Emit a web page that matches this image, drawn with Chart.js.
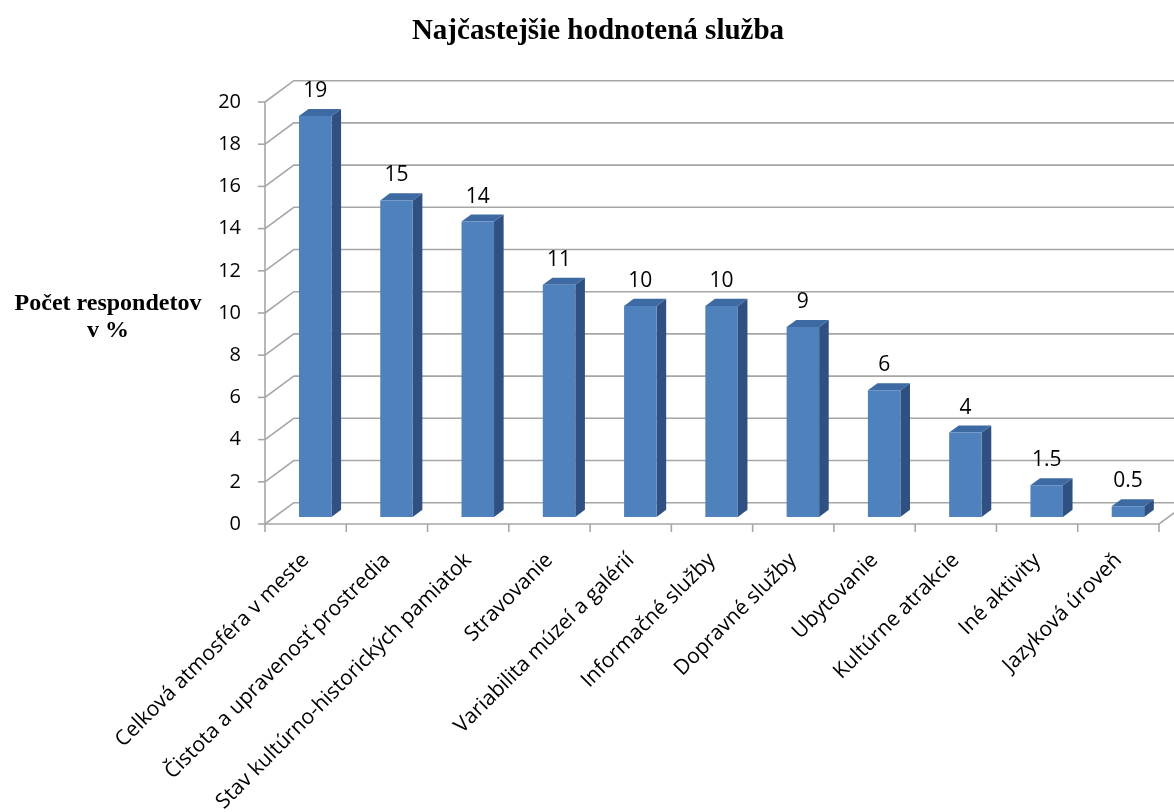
<!DOCTYPE html>
<html>
<head>
<meta charset="utf-8">
<title>Najčastejšie hodnotená služba</title>
<script src="https://cdn.jsdelivr.net/npm/chart.js@4/dist/chart.umd.min.js"></script>
<style>
  html, body { margin: 0; padding: 0; background: #fff; }
  #wrap { width: 1174px; height: 812px; }
</style>
</head>
<body>
<div id="wrap"><canvas id="chart" width="1174" height="812"></canvas></div>
<script>
/* global Chart */
const chartTitle = "Najčastejšie hodnotená služba";
const yTitleLines = ["Počet respondetov", "v %"];

const categories = [
  "Celková atmosféra v meste",
  "Čistota a upravenosť prostredia",
  "Stav kultúrno-historických pamiatok",
  "Stravovanie",
  "Variabilita múzeí a galérií",
  "Informačné služby",
  "Dopravné služby",
  "Ubytovanie",
  "Kultúrne atrakcie",
  "Iné aktivity",
  "Jazyková úroveň",
];
const values = [19, 15, 14, 11, 10, 10, 9, 6, 4, 1.5, 0.5];
const yTicks = [0, 2, 4, 6, 8, 10, 12, 14, 16, 18, 20];

// depth step of the fake 3d box (bar front sits one step in, wall three steps)
const DX = 9.6;
const DY = -7.1;
const WX = DX * 3;
const WY = DY * 3;

const GRID = "#a6a6a6";
const FRONT = "#4f81bd";
const SIDE = "#2f5080";
const TOP = "#3e6aa3";
const SANS = '"Open Sans", "Liberation Sans", sans-serif';
const SERIF = '"Liberation Serif", "DejaVu Serif", serif';

function line(ctx, pts) {
  ctx.beginPath();
  ctx.moveTo(pts[0][0], pts[0][1]);
  for (let i = 1; i < pts.length; i++) ctx.lineTo(pts[i][0], pts[i][1]);
  ctx.stroke();
}

function poly(ctx, pts, fill) {
  ctx.beginPath();
  ctx.moveTo(pts[0][0], pts[0][1]);
  for (let i = 1; i < pts.length; i++) ctx.lineTo(pts[i][0], pts[i][1]);
  ctx.closePath();
  ctx.fillStyle = fill;
  ctx.fill();
}

const box3d = {
  id: "box3d",
  beforeDraw(chart) {
    const ctx = chart.ctx;
    ctx.save();
    ctx.fillStyle = "#fff";
    ctx.fillRect(0, 0, chart.width, chart.height);
    ctx.restore();
  },
  beforeDatasetsDraw(chart) {
    const { ctx, chartArea: a, scales } = chart;
    const ys = scales.y;
    const xs = scales.x;
    ctx.save();
    ctx.strokeStyle = GRID;
    ctx.lineWidth = 1.6;
    // left wall + back wall gridlines
    for (const v of yTicks) {
      const y = ys.getPixelForValue(v);
      line(ctx, [[a.left, y], [a.left + WX, y + WY], [chart.width + 40, y + WY]]);
    }
    // floor edges
    line(ctx, [[a.left, a.bottom], [a.right, a.bottom], [a.right + WX, a.bottom + WY]]);
    // front value axis with ticks
    line(ctx, [[a.left, ys.getPixelForValue(20)], [a.left, a.bottom]]);
    for (const v of yTicks) {
      const y = ys.getPixelForValue(v);
      line(ctx, [[a.left - 7, y], [a.left, y]]);
    }
    // category ticks on the floor front edge
    const half = (xs.getPixelForValue(1) - xs.getPixelForValue(0)) / 2;
    for (let i = 0; i <= categories.length; i++) {
      const x = xs.getPixelForValue(i) - half;
      line(ctx, [[x, a.bottom], [x, a.bottom + 8]]);
    }
    ctx.restore();
  },
  afterDatasetsDraw(chart) {
    const ctx = chart.ctx;
    const meta = chart.getDatasetMeta(0);
    ctx.save();
    meta.data.forEach((el, i) => {
      const { x, y, base, width } = el.getProps(["x", "y", "base", "width"], true);
      const x0 = x - width / 2 + DX;
      const x1 = x + width / 2 + DX;
      const yt = y + DY;
      const yb = base + DY;
      poly(ctx, [[x1, yt], [x1 + DX, yt + DY], [x1 + DX, yb + DY], [x1, yb]], SIDE);
      poly(ctx, [[x0, yt], [x0 + DX, yt + DY], [x1 + DX, yt + DY], [x1, yt]], TOP);
      poly(ctx, [[x0, yt], [x1, yt], [x1, yb], [x0, yb]], FRONT);

      ctx.fillStyle = "#000";
      ctx.font = "21px " + SANS;
      ctx.textAlign = "center";
      ctx.textBaseline = "alphabetic";
      ctx.fillText(String(values[i]), x + DX, yt - 19);
    });
    ctx.restore();
  },
  afterDraw(chart) {
    const { ctx, chartArea: a, scales } = chart;
    const ys = scales.y;
    const xs = scales.x;
    ctx.save();
    ctx.fillStyle = "#000";

    // value tick labels
    ctx.font = "20px " + SANS;
    ctx.textAlign = "right";
    ctx.textBaseline = "middle";
    for (const v of yTicks) ctx.fillText(String(v), a.left - 24, ys.getPixelForValue(v));

    // category labels, rotated 45deg
    ctx.font = "21px " + SANS;
    categories.forEach((c, i) => {
      const x = xs.getPixelForValue(i);
      ctx.save();
      ctx.translate(x, a.bottom + 33);
      ctx.rotate(-Math.PI / 4);
      ctx.textAlign = "right";
      ctx.textBaseline = "middle";
      ctx.fillText(c, 0, 0);
      ctx.restore();
    });

    // title
    ctx.font = "bold 29px " + SERIF;
    ctx.textAlign = "center";
    ctx.textBaseline = "alphabetic";
    ctx.fillText(chartTitle, 598, 39);

    // value axis title, horizontal
    ctx.font = "bold 24px " + SERIF;
    ctx.fillText(yTitleLines[0], 108, 310);
    ctx.fillText(yTitleLines[1], 108, 337);
    ctx.restore();
  },
};

new Chart(document.getElementById("chart"), {
  type: "bar",
  data: {
    labels: categories,
    datasets: [{
      label: "Počet respondetov v %",
      data: values,
      backgroundColor: "rgba(0,0,0,0)",
      borderWidth: 0,
      categoryPercentage: 1,
      barPercentage: 0.4,
    }],
  },
  options: {
    responsive: false,
    animation: false,
    layout: { padding: { left: 265, top: 102, right: 15, bottom: 288 } },
    plugins: { legend: { display: false }, tooltip: { enabled: false }, title: { display: false } },
    scales: {
      x: { display: false, ticks: { autoSkip: false } },
      y: { display: false, min: 0, max: 20, ticks: { stepSize: 2 } },
    },
  },
  plugins: [box3d],
});
</script>
</body>
</html>
